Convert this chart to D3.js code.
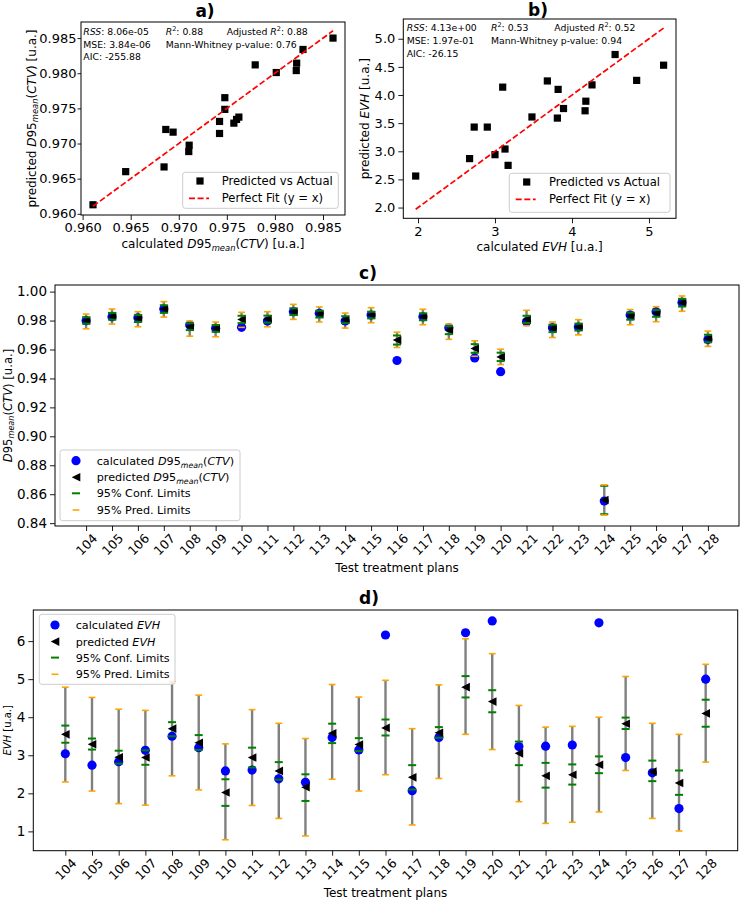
<!DOCTYPE html>
<html>
<head>
<meta charset="utf-8">
<script src="https://cdn.jsdelivr.net/npm/d3@7"></script>
<style>
  body { margin: 0; background: #fff; }
  svg { font-family: "DejaVu Sans", sans-serif; }
</style>
</head>
<body>
<script>
// ---- panel a: D95 scatter (calculated vs predicted)
var calcA = [0.96108, 0.96448, 0.96847, 0.96865, 0.96941, 0.97108, 0.97104, 0.97424, 0.97424, 0.97479,
             0.97479, 0.97573, 0.97601, 0.97625, 0.97795, 0.98014, 0.98222, 0.98226, 0.98292, 0.98604];
var predA = [0.96129, 0.96600, 0.96667, 0.97200, 0.97162, 0.96976, 0.96886, 0.97143, 0.97314, 0.97652,
             0.97486, 0.97290, 0.97343, 0.97376, 0.98119, 0.98010, 0.98038, 0.98143, 0.98338, 0.98500];
var ticksA = [0.960, 0.965, 0.970, 0.975, 0.980, 0.985];

// ---- panel b: EVH scatter
var calcB = [1.97, 2.67, 2.73, 2.90, 3.00, 3.10, 3.13, 3.17, 3.48, 3.68, 3.82, 3.81, 3.89, 4.18, 4.17, 4.26, 4.56, 4.84, 5.19];
var predB = [2.56, 2.87, 3.43, 3.43, 2.94, 4.14, 3.04, 2.75, 3.61, 4.25, 4.10, 3.59, 3.76, 3.89, 3.72, 4.18, 4.72, 4.26, 4.53];
var ticksBx = [2, 3, 4, 5];
var ticksBy = [2.0, 2.5, 3.0, 3.5, 4.0, 4.5, 5.0];

// ---- test treatment plans
var plans = [104, 105, 106, 107, 108, 109, 110, 111, 112, 113, 114, 115, 116,
             117, 118, 119, 120, 121, 122, 123, 124, 125, 126, 127, 128];

// ---- panel c: D95 per plan
var calcD95 = [0.9799, 0.9826, 0.9819, 0.9880, 0.9769, 0.9746, 0.9753, 0.9797, 0.9861, 0.9850, 0.9797, 0.9838, 0.9524,
               0.9826, 0.9750, 0.9542, 0.9447, 0.9792, 0.9750, 0.9755, 0.8553, 0.9838, 0.9861, 0.9924, 0.9669];
var predD95 = [0.9800, 0.9830, 0.9815, 0.9880, 0.9757, 0.9746, 0.9808, 0.9810, 0.9861, 0.9845, 0.9806, 0.9838, 0.9665,
               0.9826, 0.9734, 0.9607, 0.9549, 0.9808, 0.9746, 0.9755, 0.8560, 0.9831, 0.9850, 0.9924, 0.9676];
var confLoD95 = [0.9778, 0.9806, 0.9790, 0.9853, 0.9734, 0.9722, 0.9782, 0.9786, 0.9838, 0.9821, 0.9782, 0.9815, 0.9634,
                 0.9802, 0.9706, 0.9577, 0.9520, 0.9783, 0.9720, 0.9731, 0.8462, 0.9806, 0.9826, 0.9897, 0.9650];
var confHiD95 = [0.9823, 0.9853, 0.9839, 0.9906, 0.9781, 0.9769, 0.9833, 0.9834, 0.9885, 0.9868, 0.9830, 0.9861, 0.9697,
                 0.9850, 0.9761, 0.9637, 0.9578, 0.9833, 0.9772, 0.9779, 0.8658, 0.9855, 0.9874, 0.9950, 0.9702];
var predLoD95 = [0.9743, 0.9776, 0.9757, 0.9824, 0.9692, 0.9688, 0.9753, 0.9757, 0.9808, 0.9790, 0.9748, 0.9785, 0.9614,
                 0.9771, 0.9670, 0.9553, 0.9496, 0.9764, 0.9683, 0.9701, 0.8456, 0.9771, 0.9792, 0.9864, 0.9621];
var predHiD95 = [0.9845, 0.9880, 0.9861, 0.9931, 0.9797, 0.9790, 0.9857, 0.9861, 0.9912, 0.9894, 0.9852, 0.9889, 0.9720,
                 0.9878, 0.9776, 0.9660, 0.9602, 0.9871, 0.9790, 0.9806, 0.8664, 0.9876, 0.9896, 0.9970, 0.9727];
var ticksC = [0.84, 0.86, 0.88, 0.90, 0.92, 0.94, 0.96, 0.98, 1.00];

// ---- panel d: EVH per plan
var calcEVH = [3.04, 2.74, 2.83, 3.13, 3.50, 3.20, 2.59, 2.61, 2.38, 2.29, 3.47, 3.14, 6.16,
               2.07, 3.47, 6.22, 6.53, 3.23, 3.24, 3.27, 6.48, 2.94, 2.54, 1.60, 5.00];
var predEVH = [3.55, 3.29, 2.95, 2.94, 3.70, 3.33, 2.02, 2.94, 2.59, 2.16, 3.58, 3.28, 3.72,
               2.42, 3.59, 4.79, 4.41, 3.05, 2.46, 2.49, 2.75, 3.83, 2.57, 2.27, 4.10];
var confLoEVH = [3.33, 3.15, 2.78, 2.75, 3.50, 3.14, 1.67, 2.68, 2.36, 1.80, 3.32, 3.11, 3.52,
                 2.10, 3.46, 4.52, 4.13, 2.74, 2.15, 2.23, 2.53, 3.69, 2.32, 1.96, 3.75];
var confHiEVH = [3.78, 3.44, 3.12, 3.13, 3.87, 3.53, 2.37, 3.20, 2.82, 2.50, 3.83, 3.45, 3.94,
                 2.74, 3.74, 5.08, 4.71, 3.36, 2.80, 2.76, 2.97, 3.99, 2.86, 2.60, 4.46];
var predLoEVH = [2.30, 2.06, 1.73, 1.69, 2.46, 2.09, 0.78, 1.68, 1.34, 0.88, 2.37, 2.06, 2.49,
                 1.17, 2.39, 3.55, 3.15, 1.78, 1.21, 1.24, 1.51, 2.60, 1.34, 1.01, 2.82];
var predHiEVH = [4.79, 4.52, 4.21, 4.18, 4.94, 4.58, 3.30, 4.20, 3.84, 3.44, 4.86, 4.53, 4.97,
                 3.70, 4.85, 6.06, 5.67, 4.31, 3.74, 3.76, 4.00, 5.07, 3.84, 3.55, 5.39];
var ticksD = [1, 2, 3, 4, 5, 6];

// ---- layout (plot boxes in px)
var A = {l: 81, r: 345, t: 22, b: 215},
    B = {l: 403.3, r: 676, t: 19, b: 218.3},
    C = {l: 55, r: 739, t: 285, b: 526},
    D = {l: 33.3, r: 737.7, t: 610, b: 850.7};

var svg = d3.select("body").append("svg")
    .attr("width", 740)
    .attr("height", 900);

// matplotlib-like 5% margins
function pad(lo, hi) {
  var r = hi - lo;
  return [lo - 0.05 * r, hi + 0.05 * r];
}

// text with italic / sub / sup pieces, offsets in px
function rich(sel, parts, fs) {
  var cur = 0;
  parts.forEach(function (p) {
    var want = p.sub ? 0.25 * fs : (p.sup ? -0.42 * fs : 0);
    var ts = sel.append("tspan").text(p.t);
    if (want !== cur) ts.attr("dy", want - cur);
    if (p.i) ts.attr("font-style", "italic");
    if (p.sub || p.sup) ts.attr("font-size", 0.7 * fs);
    cur = want;
  });
  return sel;
}

var D95 = [{t: "D", i: 1}, {t: "95"}, {t: "mean", i: 1, sub: 1}, {t: "("}, {t: "CTV", i: 1}, {t: ")"}];

function styleAxis(g, fs) {
  g.select(".domain").remove();
  g.selectAll(".tick line").attr("stroke", "#000").attr("stroke-width", 0.9);
  g.selectAll(".tick text").attr("fill", "#000").attr("font-size", fs);
  g.attr("font-family", null);
}

function frame(P) {
  svg.append("rect")
      .attr("x", P.l).attr("y", P.t)
      .attr("width", P.r - P.l).attr("height", P.b - P.t)
      .attr("fill", "none").attr("stroke", "#000").attr("stroke-width", 1);
}

function title(txt, x, y) {
  svg.append("text").attr("x", x).attr("y", y)
      .attr("text-anchor", "middle")
      .attr("font-size", 17).attr("font-weight", "bold")
      .text(txt);
}

function legendBox(x, y, w, h) {
  svg.append("rect").attr("x", x).attr("y", y).attr("width", w).attr("height", h)
      .attr("rx", 2.5)
      .attr("fill", "#fff").attr("fill-opacity", 0.8)
      .attr("stroke", "#cccccc").attr("stroke-width", 1);
}

function triPath(s) {
  return "M" + (-s) + ",0L" + s + "," + (-s) + "L" + s + "," + s + "Z";
}

// ================= scatter panels a & b =================
function scatterPanel(P, calc, pred, xt, yt, fmt, yTick, stats, legendPos, xlabParts, ylabParts, ylabX) {
  var lo = d3.min(calc), hi = d3.max(calc);
  var x = d3.scaleLinear().domain(pad(lo, hi)).range([P.l, P.r]);
  var y = d3.scaleLinear()
      .domain(pad(Math.min(lo, d3.min(pred)), Math.max(hi, d3.max(pred))))
      .range([P.b, P.t]);

  svg.append("g").attr("transform", "translate(0," + P.b + ")")
      .call(d3.axisBottom(x).tickValues(xt).tickFormat(fmt[0]).tickSize(5).tickPadding(3))
      .call(styleAxis, 13);
  svg.append("g").attr("transform", "translate(" + P.l + ",0)")
      .call(d3.axisLeft(y).tickValues(yt).tickFormat(fmt[1]).tickSize(yTick[0]).tickPadding(yTick[1]))
      .call(styleAxis, 13);

  svg.append("g").selectAll("rect").data(calc).enter().append("rect")
      .attr("x", function (d) { return x(d) - 3.6; })
      .attr("y", function (d, i) { return y(pred[i]) - 3.6; })
      .attr("width", 7.2).attr("height", 7.2)
      .attr("fill", "#000");

  svg.append("line")
      .attr("x1", x(lo)).attr("y1", y(lo))
      .attr("x2", x(hi)).attr("y2", y(hi))
      .attr("stroke", "red").attr("stroke-width", 1.7)
      .attr("stroke-dasharray", "6,2.6");

  frame(P);

  // stats block
  stats.forEach(function (s) {
    rich(svg.append("text").attr("x", s.x).attr("y", s.y).attr("font-size", 9.3), s.parts, 9.3);
  });

  // legend
  var L = legendPos;
  legendBox(L.x, L.y, L.w, L.h);
  svg.append("rect").attr("x", L.mx - 3.6).attr("y", L.y + 8.7 - 3.6)
      .attr("width", 7.2).attr("height", 7.2).attr("fill", "#000");
  svg.append("line").attr("x1", L.mx - 11).attr("x2", L.mx + 9)
      .attr("y1", L.y + 26).attr("y2", L.y + 26)
      .attr("stroke", "red").attr("stroke-width", 1.7).attr("stroke-dasharray", "6,2.6");
  svg.append("text").attr("x", L.tx).attr("y", L.y + 12.8).attr("font-size", 11.6).text("Predicted vs Actual");
  svg.append("text").attr("x", L.tx).attr("y", L.y + 30.1).attr("font-size", 11.6).text("Perfect Fit (y = x)");

  // axis labels
  rich(svg.append("text").attr("x", (P.l + P.r) / 2).attr("y", P.b + 33)
      .attr("text-anchor", "middle").attr("font-size", 12), xlabParts, 12);
  rich(svg.append("text")
      .attr("transform", "translate(" + ylabX + "," + ((P.t + P.b) / 2) + ") rotate(-90)")
      .attr("text-anchor", "middle").attr("dominant-baseline", "central")
      .attr("font-size", 12), ylabParts, 12);
}

var R2 = function (v) { return [{t: "R", i: 1}, {t: "2", sup: 1}, {t: ": " + v}]; };

scatterPanel(A, calcA, predA, ticksA, ticksA, [d3.format(".3f"), d3.format(".3f")], [3.5, 1],
  [
    {x: 83.3, y: 35, parts: [{t: "RSS", i: 1}, {t: ": 8.06e-05"}]},
    {x: 165.7, y: 35, parts: R2("0.88")},
    {x: 226.7, y: 35, parts: [{t: "Adjusted "}].concat(R2("0.88"))},
    {x: 83.3, y: 47.6, parts: [{t: "MSE: 3.84e-06"}]},
    {x: 165.7, y: 47.6, parts: [{t: "Mann-Whitney p-value: 0.76"}]},
    {x: 83.3, y: 60, parts: [{t: "AIC: -255.88"}]}
  ],
  {x: 182.7, y: 172.3, w: 155.6, h: 36, mx: 200, tx: 221.7},
  [{t: "calculated "}].concat(D95, [{t: " [u.a.]"}]),
  [{t: "predicted "}].concat(D95, [{t: " [u.a.]"}]), 32);

scatterPanel(B, calcB, predB, ticksBx, ticksBy, [d3.format("d"), d3.format(".1f")], [5, 3],
  [
    {x: 406.7, y: 31, parts: [{t: "RSS", i: 1}, {t: ": 4.13e+00"}]},
    {x: 491, y: 31, parts: R2("0.53")},
    {x: 554.3, y: 31, parts: [{t: "Adjusted "}].concat(R2("0.52"))},
    {x: 406.7, y: 43.6, parts: [{t: "MSE: 1.97e-01"}]},
    {x: 491, y: 43.6, parts: [{t: "Mann-Whitney p-value: 0.94"}]},
    {x: 406.7, y: 56.8, parts: [{t: "AIC: -26.15"}]}
  ],
  {x: 509.3, y: 173.3, w: 160.7, h: 39, mx: 526.7, tx: 549},
  [{t: "calculated "}, {t: "EVH", i: 1}, {t: " [u.a.]"}],
  [{t: "predicted "}, {t: "EVH", i: 1}, {t: " [u.a.]"}], 365);

title("a)", 205, 17);
title("b)", 538, 16);

// ================= per-plan panels c & d =================
function planPanel(P, calc, pred, cLo, cHi, pLo, pHi, yt, yfmt, legendPos, nameParts, ylabParts, ylabX, ylabFs) {
  var x = d3.scaleLinear()
      .domain(pad(d3.min(plans), d3.max(plans)))
      .range([P.l, P.r]);
  var all = calc.concat(pred, cLo, cHi, pLo, pHi);
  var y = d3.scaleLinear().domain(pad(d3.min(all), d3.max(all))).range([P.b, P.t]);

  var gx = svg.append("g").attr("transform", "translate(0," + P.b + ")")
      .call(d3.axisBottom(x).tickValues(plans).tickFormat(d3.format("d")).tickSize(5))
      .call(styleAxis, 12.5);
  gx.selectAll(".tick text")
      .attr("y", 0).attr("dy", null)
      .attr("text-anchor", "middle")
      .attr("dominant-baseline", "central")
      .attr("transform", "translate(0,18.5) rotate(-45)");
  svg.append("g").attr("transform", "translate(" + P.l + ",0)")
      .call(d3.axisLeft(y).tickValues(yt).tickFormat(yfmt).tickSize(5).tickPadding(3))
      .call(styleAxis, 13.5);

  var g = svg.append("g");
  // prediction interval bar
  g.selectAll(".bar").data(plans).enter().append("line")
      .attr("x1", function (d) { return x(d); }).attr("x2", function (d) { return x(d); })
      .attr("y1", function (d, i) { return y(pLo[i]); })
      .attr("y2", function (d, i) { return y(pHi[i]); })
      .attr("stroke", "grey").attr("stroke-width", 2.4);
  g.selectAll(".calc").data(plans).enter().append("circle")
      .attr("cx", function (d) { return x(d); })
      .attr("cy", function (d, i) { return y(calc[i]); })
      .attr("r", 4.6).attr("fill", "blue");
  g.selectAll(".pred").data(plans).enter().append("path")
      .attr("d", triPath(4.3))
      .attr("transform", function (d, i) { return "translate(" + x(d) + "," + y(pred[i]) + ")"; })
      .attr("fill", "#000");
  [cLo, cHi].forEach(function (arr) {
    g.selectAll(null).data(plans).enter().append("line")
        .attr("x1", function (d) { return x(d) - 4; }).attr("x2", function (d) { return x(d) + 4; })
        .attr("y1", function (d, i) { return y(arr[i]); })
        .attr("y2", function (d, i) { return y(arr[i]); })
        .attr("stroke", "green").attr("stroke-width", 2);
  });
  [pLo, pHi].forEach(function (arr) {
    g.selectAll(null).data(plans).enter().append("line")
        .attr("x1", function (d) { return x(d) - 3.4; }).attr("x2", function (d) { return x(d) + 3.4; })
        .attr("y1", function (d, i) { return y(arr[i]); })
        .attr("y2", function (d, i) { return y(arr[i]); })
        .attr("stroke", "orange").attr("stroke-width", 1.6);
  });

  frame(P);

  // legend
  var L = legendPos, fs = 11.2;
  legendBox(L.x, L.y, L.w, L.h);
  var rows = [L.y + 10.7, L.y + 27.3, L.y + 43.3, L.y + 60];
  svg.append("circle").attr("cx", L.mx).attr("cy", rows[0]).attr("r", 4.6).attr("fill", "blue");
  svg.append("path").attr("d", triPath(4.3))
      .attr("transform", "translate(" + L.mx + "," + rows[1] + ")").attr("fill", "#000");
  svg.append("line").attr("x1", L.mx - 4).attr("x2", L.mx + 4).attr("y1", rows[2]).attr("y2", rows[2])
      .attr("stroke", "green").attr("stroke-width", 2);
  svg.append("line").attr("x1", L.mx - 3.4).attr("x2", L.mx + 3.4).attr("y1", rows[3]).attr("y2", rows[3])
      .attr("stroke", "orange").attr("stroke-width", 1.6);
  var labels = [
    [{t: "calculated "}].concat(nameParts),
    [{t: "predicted "}].concat(nameParts),
    [{t: "95% Conf. Limits"}],
    [{t: "95% Pred. Limits"}]
  ];
  labels.forEach(function (parts, i) {
    rich(svg.append("text").attr("x", L.tx).attr("y", rows[i] + 4).attr("font-size", fs), parts, fs);
  });

  svg.append("text").attr("x", (P.l + P.r) / 2).attr("y", P.b + 46)
      .attr("text-anchor", "middle").attr("font-size", 12)
      .text("Test treatment plans");
  rich(svg.append("text")
      .attr("transform", "translate(" + ylabX + "," + ((P.t + P.b) / 2) + ") rotate(-90)")
      .attr("text-anchor", "middle").attr("dominant-baseline", "central")
      .attr("font-size", ylabFs), ylabParts, ylabFs);
}

planPanel(C, calcD95, predD95, confLoD95, confHiD95, predLoD95, predHiD95,
  ticksC, d3.format(".2f"),
  {x: 60, y: 450, w: 180, h: 70.7, mx: 76, tx: 96.7},
  D95, D95.concat([{t: " [u.a.]"}]), 8, 11.6);

planPanel(D, calcEVH, predEVH, confLoEVH, confHiEVH, predLoEVH, predHiEVH,
  ticksD, d3.format("d"),
  {x: 39.3, y: 614.3, w: 135.7, h: 70, mx: 55, tx: 75.7},
  [{t: "EVH", i: 1}], [{t: "EVH", i: 1}, {t: " [u.a.]"}], 7, 10);

title("c)", 368, 279);
title("d)", 369, 604);
</script>
</body>
</html>
